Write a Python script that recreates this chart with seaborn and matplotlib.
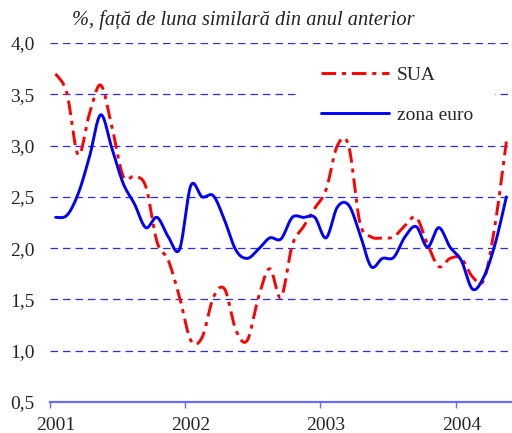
import numpy as np
import pandas as pd
import matplotlib
matplotlib.use("Agg")
import matplotlib.pyplot as plt
from matplotlib.patches import Rectangle
import seaborn as sns

# monthly values, Jan 2001 - May 2004 (% y/y)
ani = ["2001", "2002", "2003", "2004"]
sua = [3.70, 3.51, 2.91, 3.31, 3.59, 3.18, 2.70, 2.70, 2.60, 2.06, 1.88, 1.52,
       1.10, 1.13, 1.52, 1.60, 1.20, 1.10, 1.52, 1.80, 1.52, 2.03, 2.21, 2.39,
       2.57, 3.00, 3.00, 2.25, 2.11, 2.10, 2.11, 2.22, 2.30, 2.04, 1.82, 1.90,
       1.90, 1.72, 1.69, 2.23, 3.04]
zona_euro = [2.30, 2.32, 2.53, 2.89, 3.30, 2.97, 2.63, 2.43, 2.20, 2.30, 2.11, 1.99,
             2.61, 2.50, 2.51, 2.27, 1.98, 1.90, 1.99, 2.10, 2.09, 2.30, 2.30, 2.30,
             2.10, 2.40, 2.42, 2.14, 1.82, 1.90, 1.91, 2.11, 2.21, 2.01, 2.20, 2.01,
             1.88, 1.60, 1.72, 2.04, 2.50]


def smooth(vals, n=16):
    # Catmull-Rom curve through the points, close to Excel's "smoothed line"
    v = np.asarray(vals, float)
    p = np.r_[v[0], v, v[-1]]
    xp = np.arange(len(v)) + 0.5
    xq = np.r_[xp[0], xp, xp[-1]]
    xs, ys = [], []
    t = np.linspace(0, 1, n, endpoint=False)
    for i in range(len(v) - 1):
        for arr, out in ((p, ys), (xq, xs)):
            p0, p1, p2, p3 = arr[i:i + 4]
            out.extend(0.5 * (2 * p1 + (-p0 + p2) * t
                              + (2 * p0 - 5 * p1 + 4 * p2 - p3) * t ** 2
                              + (-p0 + 3 * p1 - 3 * p2 + p3) * t ** 3))
    xs.append(xp[-1]); ys.append(v[-1])
    return np.array(xs), np.array(ys)


sns.set_style("white")
plt.rcParams["font.family"] = ["Liberation Serif", "DejaVu Serif"]

fig = plt.figure(figsize=(5.12, 4.33), dpi=100)
ax = fig.add_axes([50 / 512, 31 / 433, 462 / 512, 359 / 433])

rows = []
for name, vals in (("SUA", sua), ("zona euro", zona_euro)):
    xs, ys = smooth(vals)
    rows.append(pd.DataFrame({"luna": xs, "val": ys, "serie": name}))
df = pd.concat(rows, ignore_index=True)

sns.lineplot(data=df, x="luna", y="val", hue="serie", style="serie",
             palette={"SUA": "#ff0000", "zona euro": "#0000ff"},
             dashes={"SUA": (5.0, 2.0, 1.4, 2.0), "zona euro": ""},
             sort=False, estimator=None, linewidth=2.1, ax=ax, zorder=3)

ax.set_xlim(0, 41)
ax.set_ylim(0.5, 4.0)
yt = np.arange(0.5, 4.01, 0.5)
ax.set_yticks(yt)
ax.set_yticklabels([f"{v:.1f}".replace(".", ",") for v in yt])
# tick marks at year starts, labels centred on January
ax.set_xticks([0, 12, 24, 36])
ax.set_xticklabels([])
ax.set_xticks([0.5, 12.5, 24.5, 36.5], minor=True)
ax.set_xticklabels(ani, minor=True)
ax.set_xlabel("")
ax.set_ylabel("")

ax.grid(axis="y", color="#2a2aff", linestyle=(0, (6, 4)), linewidth=0.9)
ax.grid(axis="x", visible=False)
for s in ("left", "right", "top"):
    ax.spines[s].set_visible(False)
ax.spines["bottom"].set_color("#6a6aff")
ax.spines["bottom"].set_linewidth(1.6)
ax.tick_params(axis="x", which="major", direction="out", length=4, width=1,
               color="#6a6aff", bottom=True)
ax.tick_params(axis="x", which="minor", length=0, pad=10.5, labelsize=14)
ax.tick_params(axis="y", length=0, pad=11, labelsize=14)

# white box of the legend, hiding the grid line behind it
ax.add_patch(Rectangle((298, 433 - 134), 197, 76, transform=None,
                       facecolor="white", edgecolor="none", zorder=2.5))
leg = ax.legend(loc="upper left", bbox_to_anchor=(321 / 512, 1 - 66 / 433),
                bbox_transform=fig.transFigure, frameon=False, fontsize=14,
                handlelength=3.5, handletextpad=0.41, labelspacing=1.16,
                borderaxespad=0, borderpad=0)

fig.text(72 / 512, 1 - 20 / 433, "%, față de luna similară din anul anterior",
         fontsize=14.7, style="italic", va="center", ha="left", color="#222222")

fig.savefig("out.png", dpi=100)
